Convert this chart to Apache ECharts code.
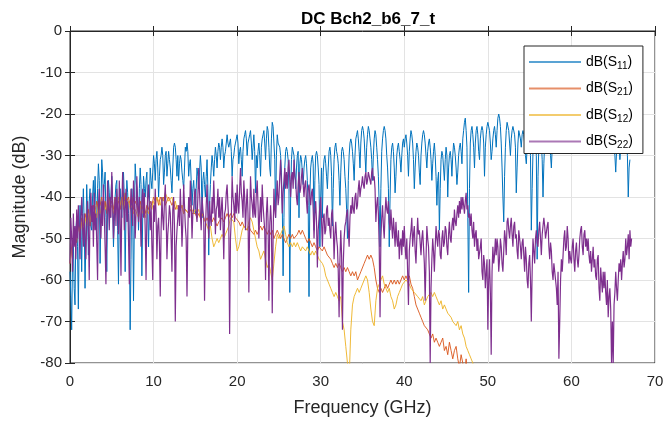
<!DOCTYPE html>
<html><head><meta charset="utf-8">
<script src="https://cdn.jsdelivr.net/npm/echarts@6/dist/echarts.min.js"></script>
<style>html,body{margin:0;padding:0;background:#fff}#c{width:669px;height:422px}</style>
</head><body><div id="c"></div>
<script>
// Frequency steps (GHz) between consecutive samples, all series start at 0 GHz
const STEP_FINE = 0.1;   // S11, S22
const STEP_COARSE = 0.2; // S21, S12
const seriesNames = ['S11', 'S21', 'S12', 'S22'];
const xTicks = [0, 10, 20, 30, 40, 50, 60, 70];
const yTicks = [-80, -70, -60, -50, -40, -30, -20, -10, 0];

const s11 = [
-58,-64,-72,-55,-50,-62,-66,-48,-45,-52,
-67,-50,-42,-47,-58,-44,-38,-46,-62,-50,
-37,-44,-54,-41,-38,-47,-48,-40,-36,-43,
-35,-42,-50,-38,-32,-36,-56,-44,-31,-34,
-40,-37,-34,-45,-58,-42,-36,-39,-45,-40,
-35,-41,-52,-46,-40,-37,-36,-48,-61,-43,
-38,-42,-45,-37,-34,-40,-58,-44,-36,-39,
-44,-50,-72,-55,-38,-42,-65,-46,-32,-36,
-36,-40,-48,-38,-33,-37,-59,-45,-35,-38,
-40,-36,-34,-44,-52,-41,-33,-36,-38,-34,
-30,-32,-36,-31,-29,-33,-40,-35,-31,-30,
-28,-30,-37,-34,-30,-29,-35,-32,-29,-31,
-33,-36,-39,-33,-28,-27,-28,-31,-35,-30,
-36,-32,-30,-31,-34,-36,-38,-33,-28,-29,
-27,-29,-35,-32,-31,-36,-42,-38,-36,-40,
-44,-38,-33,-35,-38,-34,-30,-33,-45,-36,
-34,-37,-40,-35,-31,-38,-54,-42,-37,-33,
-30,-32,-35,-31,-28,-30,-33,-29,-27,-28,
-31,-28,-26,-28,-33,-30,-29,-27,-25,-27,
-28,-27,-26,-29,-35,-31,-30,-28,-27,-26,
-25,-27,-32,-29,-28,-31,-35,-29,-26,-25,
-24,-26,-30,-27,-26,-25,-24,-27,-31,-28,
-25,-29,-39,-30,-33,-29,-27,-30,-35,-28,
-26,-25,-24,-27,-31,-26,-23,-24,-28,-33,
-35,-26,-22,-23,-27,-31,-45,-30,-25,-27,
-27,-28,-30,-34,-42,-59,-45,-33,-29,-28,
-29,-31,-38,-63,-40,-31,-28,-28,-30,-34,
-38,-33,-30,-29,-45,-32,-30,-31,-34,-37,
-33,-31,-30,-32,-36,-42,-64,-40,-33,-31,
-30,-32,-48,-36,-30,-29,-30,-33,-37,-52,
-40,-33,-45,-34,-31,-30,-32,-35,-38,-33,
-29,-28,-30,-35,-47,-38,-31,-28,-27,-29,
-30,-32,-36,-42,-34,-29,-28,-29,-31,-35,
-38,-43,-50,-36,-30,-27,-26,-27,-29,-32,
-36,-30,-26,-25,-24,-26,-29,-33,-27,-24,
-23,-24,-26,-30,-34,-28,-25,-23,-24,-26,
-28,-31,-36,-30,-26,-24,-25,-28,-31,-35,
-42,-52,-38,-29,-26,-24,-23,-24,-26,-30,
-33,-38,-52,-40,-31,-28,-27,-29,-33,-39,
-35,-30,-28,-27,-29,-31,-34,-30,-27,-26,
-28,-26,-25,-27,-30,-35,-29,-26,-24,-25,
-27,-31,-38,-33,-29,-27,-28,-30,-34,-37,
-30,-27,-25,-24,-25,-27,-30,-33,-29,-27,
-26,-28,-31,-36,-32,-29,-27,-30,-35,-42,
-36,-34,-48,-38,-31,-29,-30,-33,-36,-31,
-28,-30,-40,-33,-30,-29,-31,-35,-30,-27,
-28,-30,-33,-37,-34,-30,-28,-27,-29,-32,
-26,-24,-22,-21,-24,-28,-45,-63,-38,-27,
-24,-23,-25,-28,-33,-27,-24,-23,-25,-29,
-31,-26,-24,-23,-24,-27,-35,-28,-25,-23,
-22,-22,-24,-27,-31,-29,-26,-24,-23,-25,
-28,-24,-21,-20,-21,-23,-27,-33,-40,-46,
-35,-28,-24,-22,-22,-24,-27,-30,-26,-24,
-23,-23,-25,-28,-39,-33,-27,-24,-24,-26,
-28,-25,-24,-25,-27,-30,-32,-28,-25,-24,
-26,-30,-48,-38,-29,-26,-25,-26,-30,-55,
-35,-28,-26,-25,-27,-31,-40,-32,-27,-25,
-26,-29,-26,-25,-27,-30,-33,-28,-26,-25,
-24,-25,-27,-26,-24,-23,-25,-27,-26,-24,
-23,-25,-27,-25,-23,-22,-24,-26,-25,-23,
-24,-26,-28,-26,-24,-23,-24,-26,-25,-24,
-25,-27,-26,-24,-23,-25,-27,-28,-26,-24,
-24,-25,-27,-26,-24,-23,-25,-27,-26,-25,
-27,-28,-26,-24,-23,-25,-27,-26,-24,-25,
-26,-27,-25,-24,-26,-28,-27,-25,-24,-26,
-27,-28,-30,-34,-29,-26,-25,-27,-31,-28,
-26,-25,-27,-29,-28,-26,-27,-30,-40,-33,
-31
];

const s21 = [
-56,-52,-50,-48,-51, -46,-49,-45,-47,-44, -46,-43,-47,-44,-42, -44,-41,-43,-42,-40,
-43,-41,-44,-40,-42, -41,-43,-40,-42,-41, -43,-40,-42,-39,-41, -40,-42,-40,-43,-41,
-42,-44,-41,-43,-42, -44,-42,-43,-41,-42, -40,-41,-40,-42,-40, -41,-40,-42,-41,-40,
-41,-42,-41,-43,-42, -42,-43,-42,-44,-43, -43,-44,-43,-44,-44, -44,-45,-44,-45,-44,
-45,-46,-45,-46,-45, -46,-45,-46,-47,-46, -46,-45,-46,-45,-44, -45,-44,-45,-44,-45,
-45,-46,-47,-46,-47, -47,-48,-47,-48,-48, -49,-48,-49,-48,-47, -48,-47,-48,-49,-48,
-49,-48,-50,-49,-48, -49,-50,-49,-50,-51, -50,-49,-50,-49,-50, -50,-49,-48,-49,-48,
-49,-50,-51,-50,-51, -52,-51,-52,-53,-52, -52,-53,-52,-53,-54, -54,-55,-56,-57,-56,
-57,-56,-57,-58,-57, -58,-57,-58,-59,-58, -59,-58,-60,-59,-58, -58,-56,-55,-54,-55,
-54,-55,-57,-60,-62, -63,-62,-63,-62,-61, -62,-61,-60,-61,-60, -61,-60,-61,-60,-59,
-60,-59,-60,-59,-61, -62,-64,-66,-67,-68, -69,-70,-71,-71,-72, -73,-74,-73,-75,-74,
-75,-76,-75,-74,-77, -76,-78,-75,-77,-79, -77,-76,-79,-81,-78, -80,-83,-79,-84,-82,
-85,-82,-86
];

const s12 = [
-56,-53,-51,-49,-50, -47,-49,-46,-48,-45, -47,-44,-46,-43,-45, -43,-45,-42,-44,-42,
-41,-43,-42,-40,-43, -42,-44,-41,-43,-40, -42,-40,-43,-41,-42, -41,-43,-42,-44,-43,
-43,-45,-42,-44,-43, -45,-43,-44,-42,-43, -41,-42,-40,-41,-42, -40,-41,-39,-40,-41,
-41,-40,-42,-41,-43, -42,-43,-42,-44,-43, -43,-44,-42,-43,-44, -43,-44,-43,-45,-44,
-45,-46,-47,-48,-47, -50,-52,-51,-50,-51, -50,-49,-50,-49,-48, -47,-45,-45,-46,-50,
-53,-52,-50,-48,-47, -47,-48,-46,-45,-46, -48,-50,-52,-53,-55, -54,-53,-55,-57,-56,
-58,-60,-56,-52,-49, -50,-49,-48,-47,-49, -51,-52,-51,-52,-51, -52,-51,-52,-53,-52,
-52,-53,-52,-53,-54, -53,-54,-53,-54,-55, -55,-56,-57,-59,-60, -61,-62,-63,-64,-63,
-64,-65,-64,-70,-72, -76,-80,-84,-72,-66, -64,-63,-62,-63,-62, -62,-60,-59,-60,-63,
-67,-70,-71,-65,-62, -61,-60,-59,-61,-62, -63,-62,-64,-65,-67, -66,-64,-63,-62,-61,
-61,-60,-60,-61,-62, -62,-63,-63,-64,-64, -65,-64,-66,-65,-64, -64,-63,-64,-63,-64,
-65,-66,-65,-67,-66, -67,-68,-68,-69,-70, -70,-71,-70,-72,-71, -73,-74,-76,-77,-78,
-79,-80,-82,-81,-84, -86
];

const s22 = [
-56,-45,-50,-58,-44,-52,-47,-55,-43,-50,
-42,-48,-55,-45,-40,-47,-52,-44,-50,-55,
-45,-41,-48,-60,-43,-39,-46,-42,-52,-39,
-48,-44,-51,-60,-42,-38,-45,-50,-41,-47,
-37,-44,-52,-61,-46,-36,-42,-48,-40,-45,
-34,-41,-50,-44,-40,-47,-38,-43,-49,-36,
-45,-59,-42,-34,-40,-48,-43,-38,-46,-41,
-50,-61,-44,-38,-42,-47,-36,-41,-50,-44,
-35,-42,-46,-40,-44,-52,-41,-38,-45,-39,
-48,-60,-44,-40,-37,-43,-48,-41,-52,-60,
-42,-46,-38,-44,-55,-47,-45,-51,-64,-48,
-40,-45,-48,-41,-37,-44,-55,-49,-46,-42,
-44,-50,-58,-43,-40,-47,-70,-52,-48,-45,
-42,-47,-38,-44,-52,-46,-37,-42,-47,-50,
-64,-48,-40,-45,-36,-41,-50,-44,-43,-39,
-38,-44,-46,-40,-33,-39,-44,-48,-40,-43,
-45,-65,-48,-42,-37,-44,-50,-41,-45,-47,
-40,-44,-36,-42,-49,-43,-42,-38,-45,-40,
-48,-43,-40,-46,-55,-44,-43,-39,-37,-42,
-46,-73,-50,-45,-35,-40,-42,-46,-39,-44,
-37,-42,-44,-38,-33,-39,-41,-45,-36,-40,
-48,-42,-38,-44,-63,-46,-35,-40,-42,-45,
-38,-44,-45,-39,-36,-42,-50,-44,-40,-46,
-37,-42,-45,-48,-60,-44,-40,-46,-65,-47,
-42,-46,-68,-50,-38,-43,-45,-40,-36,-42,
-40,-35,-31,-37,-44,-39,-36,-33,-38,-34,
-38,-33,-31,-36,-40,-35,-34,-38,-31,-35,
-36,-40,-42,-37,-34,-39,-38,-35,-33,-37,
-40,-37,-36,-41,-44,-38,-37,-40,-42,-39,
-38,-43,-50,-44,-41,-46,-57,-48,-45,-42,
-40,-46,-52,-45,-44,-49,-48,-43,-42,-47,
-45,-48,-50,-44,-43,-47,-55,-49,-46,-50,
-52,-58,-69,-55,-48,-54,-72,-56,-50,-47,
-46,-44,-43,-48,-52,-45,-42,-44,-40,-43,
-44,-40,-39,-43,-42,-38,-36,-40,-38,-37,
-35,-37,-38,-35,-34,-37,-36,-34,-34,-36,
-37,-34,-33,-36,-35,-38,-46,-42,-40,-44,
-52,-69,-50,-45,-42,-47,-50,-44,-40,-43,
-44,-41,-46,-48,-43,-47,-50,-45,-48,-52,
-46,-50,-52,-48,-55,-51,-50,-54,-48,-52,
-47,-52,-55,-50,-58,-66,-53,-50,-48,-45,
-52,-49,-47,-53,-56,-50,-45,-49,-48,-51,
-54,-50,-48,-52,-56,-65,-55,-47,-50,-52,
-58,-80,-62,-55,-50,-53,-58,-52,-47,-50,
-52,-48,-49,-54,-55,-50,-48,-52,-51,-47,
-48,-52,-54,-49,-46,-50,-51,-47,-45,-48,
-43,-46,-47,-44,-42,-45,-41,-44,-40,-43,
-40,-42,-44,-41,-39,-43,-42,-45,-44,-47,
-44,-48,-50,-46,-52,-49,-48,-53,-50,-55,
-55,-52,-50,-58,-60,-54,-56,-62,-58,-55,
-72,-60,-55,-63,-78,-58,-52,-56,-54,-50,
-54,-50,-52,-58,-55,-50,-52,-56,-58,-53,
-48,-50,-54,-46,-45,-48,-50,-47,-45,-49,
-52,-47,-46,-50,-49,-53,-55,-48,-50,-52,
-55,-51,-50,-54,-58,-52,-55,-60,-62,-56,
-54,-60,-70,-58,-50,-53,-56,-50,-48,-51,
-52,-48,-46,-50,-54,-49,-47,-45,-47,-50,
-50,-47,-46,-52,-55,-51,-53,-58,-60,-56,
-56,-60,-62,-66,-58,-79,-70,-60,-55,-58,
-54,-50,-48,-53,-52,-47,-50,-56,-53,-55,
-56,-52,-50,-55,-58,-53,-51,-55,-57,-54,
-50,-48,-47,-52,-54,-49,-48,-52,-50,-53,
-50,-54,-56,-53,-58,-55,-52,-57,-55,-59,
-60,-55,-54,-62,-65,-57,-60,-63,-58,-62,
-58,-63,-66,-60,-69,-64,-62,-67,-80,-70,
-80,-66,-63,-58,-62,-65,-60,-56,-58,-55,
-60,-56,-53,-57,-55,-50,-54,-52,-49,-55,
-48,-52,-50
];

const colors = ['#0072BD', '#D95319', '#EDB120', '#7E2F8E'];
const widths = [1.0, 0.9, 0.9, 1.2];
const values = [s11, s21, s12, s22];
const steps = [STEP_FINE, STEP_COARSE, STEP_COARSE, STEP_FINE];
const toPairs = (arr, st) => arr.map((v, i) => [+(i * st).toFixed(2), v]);

const FONT = '"Liberation Sans", Arial, sans-serif';
const TXT = '#262626';
const tickIn = {show: true, inside: true, length: 5, lineStyle: {color: '#262626', width: 1}};

const chart = echarts.init(document.getElementById('c'), null, {renderer: 'canvas'});
chart.setOption({
  animation: false,
  backgroundColor: '#ffffff',
  textStyle: {fontFamily: FONT},
  title: {
    text: 'DC Bch2_b6_7_t', left: 363, top: 6, textAlign: 'center',
    textStyle: {fontFamily: FONT, fontSize: 17, fontWeight: 'bold', color: '#000'}
  },
  grid: {left: 70, right: 14, top: 31, bottom: 58, show: true, borderColor: '#262626', borderWidth: 1, containLabel: false},
  legend: {
    orient: 'vertical', left: 524, top: 46,
    data: seriesNames,
    backgroundColor: '#ffffff', borderColor: '#262626', borderWidth: 1,
    padding: [5, 10, 3, 5], itemGap: 6.5,
    itemWidth: 52, itemHeight: 2, icon: 'rect',
    itemStyle: {opacity: 0.65},
    formatter: n => '{a|dB(S}{s|' + n.slice(1) + '}{a|)}',
    textStyle: {
      color: '#000', fontFamily: FONT,
      rich: {
        a: {fontSize: 14, fontFamily: FONT, color: '#000', lineHeight: 18, verticalAlign: 'middle'},
        s: {fontSize: 10, fontFamily: FONT, color: '#000', lineHeight: 18, verticalAlign: 'bottom', padding: [10, 0, 0, 0]}
      }
    }
  },
  xAxis: [{
    type: 'value', min: 0, max: 70, interval: 10,
    name: 'Frequency (GHz)', nameLocation: 'middle', nameGap: 36,
    nameTextStyle: {fontFamily: FONT, fontSize: 18, color: TXT},
    axisLine: {show: true, lineStyle: {color: '#262626'}},
    axisTick: tickIn,
    axisLabel: {fontFamily: FONT, fontSize: 15, color: TXT, margin: 11,
      formatter: v => xTicks.includes(v) ? String(v) : ''},
    splitLine: {show: true, lineStyle: {color: '#E3E3E3', width: 1}}
  }, {
    type: 'value', min: 0, max: 70, interval: 10, position: 'top',
    axisLine: {show: false}, axisTick: tickIn,
    axisLabel: {show: false}, splitLine: {show: false}
  }],
  yAxis: [{
    type: 'value', min: -80, max: 0, interval: 10,
    name: 'Magnitude (dB)', nameLocation: 'middle', nameGap: 41,
    nameTextStyle: {fontFamily: FONT, fontSize: 18, color: TXT},
    axisLine: {show: true, lineStyle: {color: '#262626'}},
    axisTick: tickIn,
    axisLabel: {fontFamily: FONT, fontSize: 15, color: TXT, margin: 8,
      formatter: v => yTicks.includes(v) ? String(v) : ''},
    splitLine: {show: true, lineStyle: {color: '#E3E3E3', width: 1}}
  }, {
    type: 'value', min: -80, max: 0, interval: 10, position: 'right',
    axisLine: {show: false}, axisTick: tickIn,
    axisLabel: {show: false}, splitLine: {show: false}
  }],
  series: seriesNames.map((n, k) => ({
    name: n, type: 'line', data: toPairs(values[k], steps[k]),
    xAxisIndex: 0, yAxisIndex: 0,
    showSymbol: false, symbol: 'none', clip: true,
    color: colors[k],
    lineStyle: {width: widths[k], color: colors[k]},
    z: 2 + k
  }))
});
</script></body></html>
